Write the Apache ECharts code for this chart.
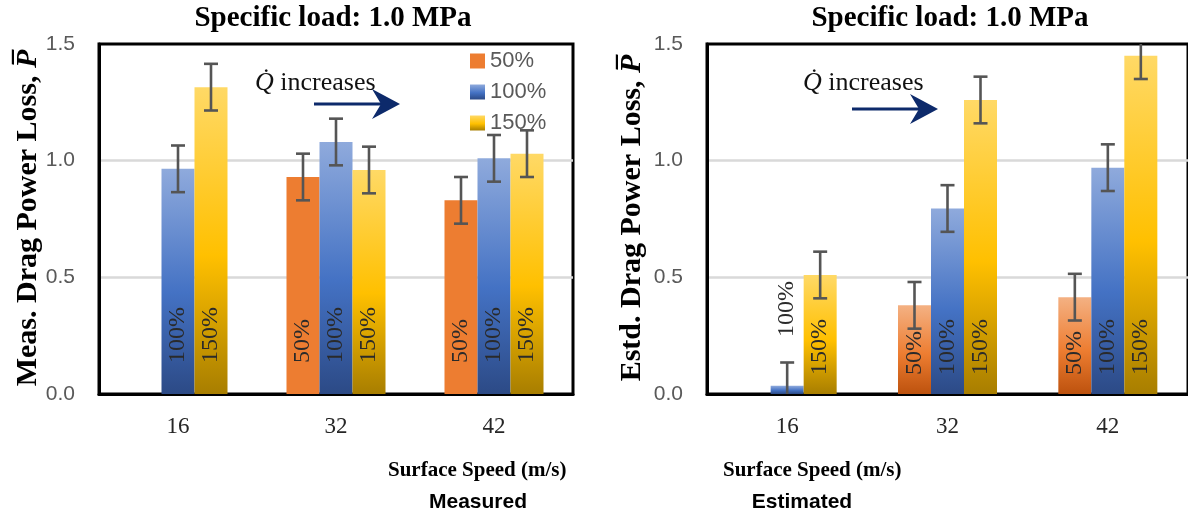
<!DOCTYPE html>
<html><head><meta charset="utf-8">
<script src="https://cdn.jsdelivr.net/npm/echarts@6/dist/echarts.min.js"></script>
<style>html,body{margin:0;padding:0;background:#fff}#c{width:1188px;height:516px}</style>
</head><body><div id="c"></div>
<script>
// ---- data ----
const categories = ['16', '32', '42'];
const seriesNames = ['50%', '100%', '150%'];
const measured50 = [null, 0.93, 0.83];
const measured100 = [0.965, 1.08, 1.01];
const measured150 = [1.315, 0.96, 1.03];
const measuredErr50 = [null, 0.1, 0.1];
const measuredErr100 = [0.1, 0.1, 0.1];
const measuredErr150 = [0.1, 0.1, 0.1];
const estimated50 = [null, 0.38, 0.415];
const estimated100 = [0.035, 0.795, 0.97];
const estimated150 = [0.51, 1.26, 1.45];
const estimatedErr50 = [null, 0.1, 0.1];
const estimatedErr100 = [0.1, 0.1, 0.1];
const estimatedErr150 = [0.1, 0.1, 0.1];
const yTickLabels = ['0.0', '0.5', '1.0', '1.5'];
const titleText = 'Specific load: 1.0 MPa';
const xName = 'Surface Speed (m/s)';

// ---- style ----
const SERIF = '"Liberation Serif", "Times New Roman", serif';
const SANS = '"Liberation Sans", Arial, sans-serif';
const BAR_W = 33;
const grad = (a, b, c) => new echarts.graphic.LinearGradient(0, 0, 0, 1, [
  {offset: 0, color: a}, {offset: 0.55, color: b}, {offset: 1, color: c}]);
const colorsLeft = ['#ED7D31', grad('#8FAADC', '#4472C4', '#2C4A86'), grad('#FFD966', '#FFC000', '#A87E00')];
const colorsRight = [grad('#F4B183', '#ED7D31', '#BD520E'), grad('#8FAADC', '#4472C4', '#2C4A86'), grad('#FFD966', '#FFC000', '#A87E00')];

const yMin = parseFloat(yTickLabels[0]);
const yMax = parseFloat(yTickLabels[yTickLabels.length - 1]);
const yInt = parseFloat(yTickLabels[1]) - yMin;

const chart = echarts.init(document.getElementById('c'), null, {renderer: 'canvas'});

function barSeries(gi, idx, vals, colors, dist, lifts) {
  return {
    type: 'bar', name: seriesNames[idx], xAxisIndex: gi, yAxisIndex: gi,
    barWidth: BAR_W, barGap: '0%',
    itemStyle: {color: colors[idx]},
    label: {
      show: true, position: 'insideBottom', rotate: 90, align: 'left', verticalAlign: 'middle',
      distance: dist, formatter: seriesNames[idx], fontFamily: SERIF, fontSize: 24, color: '#2a2a2a'
    },
    data: vals.map((v, i) => {
      if (v == null) return null;
      const lift = lifts && lifts[i];
      return lift ? {value: v, label: {distance: lift}} : v;
    })
  };
}

function errSeries(gi, idx, vals, errs) {
  const data = [];
  vals.forEach((v, i) => { if (v != null) data.push([i, v - errs[i], v + errs[i]]); });
  return {
    type: 'custom', xAxisIndex: gi, yAxisIndex: gi, z: 5, silent: true,
    renderItem: function (params, api) {
      const cs = params.coordSys;
      const p1 = api.coord([api.value(0), api.value(1)]);
      const p2 = api.coord([api.value(0), api.value(2)]);
      const x = p1[0] + (idx - 1) * BAR_W;
      const top = cs.y, bot = cs.y + cs.height;
      const yl = Math.min(p1[1], bot), yh = Math.max(p2[1], top);
      const st = {stroke: '#555555', lineWidth: 2.6};
      const ch = [{type: 'line', shape: {x1: x, y1: yh, x2: x, y2: yl}, style: st}];
      if (p1[1] <= bot) ch.push({type: 'line', shape: {x1: x - 7, y1: p1[1], x2: x + 7, y2: p1[1]}, style: st});
      if (p2[1] >= top) ch.push({type: 'line', shape: {x1: x - 7, y1: p2[1], x2: x + 7, y2: p2[1]}, style: st});
      return {type: 'group', children: ch};
    },
    data: data
  };
}

function xAxisCfg(gi) {
  return {
    type: 'category', gridIndex: gi, data: categories,
    axisLine: {lineStyle: {color: '#000', width: 3}}, axisTick: {show: false},
    axisLabel: {fontFamily: SERIF, fontSize: 23, color: '#262626', margin: 21}
  };
}
function yAxisCfg(gi) {
  return {
    type: 'value', gridIndex: gi, min: yMin, max: yMax, interval: yInt,
    axisLine: {show: true, lineStyle: {color: '#000', width: 3}}, axisTick: {show: false},
    splitLine: {show: true, showMinLine: false, showMaxLine: false, lineStyle: {color: '#D9D9D9', width: 2.5}},
    axisLabel: {formatter: v => yTickLabels[Math.round((v - yMin) / yInt)], fontFamily: SANS, fontSize: 21, color: '#595959', margin: 24}
  };
}

const arrowColor = '#0D2A6B';
function annotation(x, y, ax1, ax2, ay) {
  return [
    {type: 'text', x: x, y: y, style: {text: '{q|Q\u0307} increases', align: 'left', verticalAlign: 'middle',
      fontFamily: SERIF, fontSize: 26, fill: '#111',
      rich: {q: {fontFamily: SERIF, fontSize: 26, fontStyle: 'italic', fill: '#111'}}}},
    {type: 'line', shape: {x1: ax1, y1: ay, x2: ax2 - 8, y2: ay}, style: {stroke: arrowColor, lineWidth: 3}},
    {type: 'polygon', shape: {points: [[ax2, ay], [ax2 - 28, ay - 15], [ax2 - 19, ay], [ax2 - 28, ay + 15]]}, style: {fill: arrowColor}}
  ];
}
function yName(x, y, prefix) {
  return {type: 'text', x: x, y: y, rotation: Math.PI / 2,
    style: {text: '{a|' + prefix + '}{p|P\u0305}', align: 'center', verticalAlign: 'middle',
      fontFamily: SERIF, fontSize: 30, fontWeight: 'bold', fill: '#000',
      rich: {a: {fontFamily: SERIF, fontSize: 30, fontWeight: 'bold', fill: '#000'},
             p: {fontFamily: SERIF, fontSize: 30, fontWeight: 'bold', fontStyle: 'italic', fill: '#000'}}}};
}
function txt(x, y, s, font, size, align) {
  return {type: 'text', x: x, y: y, style: {text: s, align: align || 'center', verticalAlign: 'middle',
    fontFamily: font, fontSize: size, fontWeight: 'bold', fill: '#000'}};
}

const option = {
  animation: false,
  backgroundColor: '#fff',
  grid: [
    {left: 99, top: 44, width: 474, height: 350, show: true, borderColor: '#000', borderWidth: 3, backgroundColor: 'transparent'},
    {left: 707, top: 44, width: 483, height: 350, show: true, borderColor: '#000', borderWidth: 3, backgroundColor: 'transparent'}
  ],
  legend: {
    data: seriesNames, orient: 'vertical', left: 465, top: 45, itemWidth: 15, itemHeight: 15, itemGap: 9,
    icon: 'rect', selectedMode: false,
    textStyle: {fontFamily: SANS, fontSize: 22, color: '#595959'}
  },
  xAxis: [xAxisCfg(0), xAxisCfg(1)],
  yAxis: [yAxisCfg(0), yAxisCfg(1)],
  series: [
    barSeries(0, 0, measured50, colorsLeft, 31),
    barSeries(0, 1, measured100, colorsLeft, 31),
    barSeries(0, 2, measured150, colorsLeft, 31),
    barSeries(1, 0, estimated50, colorsRight, 19),
    barSeries(1, 1, estimated100, colorsRight, 19, [57, null, null]),
    barSeries(1, 2, estimated150, colorsRight, 19),
    errSeries(0, 0, measured50, measuredErr50),
    errSeries(0, 1, measured100, measuredErr100),
    errSeries(0, 2, measured150, measuredErr150),
    errSeries(1, 0, estimated50, estimatedErr50),
    errSeries(1, 1, estimated100, estimatedErr100),
    errSeries(1, 2, estimated150, estimatedErr150)
  ],
  graphic: [
    txt(333, 19, titleText, SERIF, 29),
    txt(950, 19, titleText, SERIF, 29),
    yName(28, 218, 'Meas. Drag Power Loss, '),
    yName(632, 218, 'Estd. Drag Power Loss, '),
    txt(388, 471, xName, SERIF, 21, 'left'),
    txt(723, 471, xName, SERIF, 21, 'left'),
    txt(478, 502, 'Measured', SANS, 21),
    txt(802, 502, 'Estimated', SANS, 21)
  ].concat(annotation(255, 83, 314, 400, 104), annotation(803, 83, 852, 938, 109))
};
chart.setOption(option);
</script>
</body></html>
